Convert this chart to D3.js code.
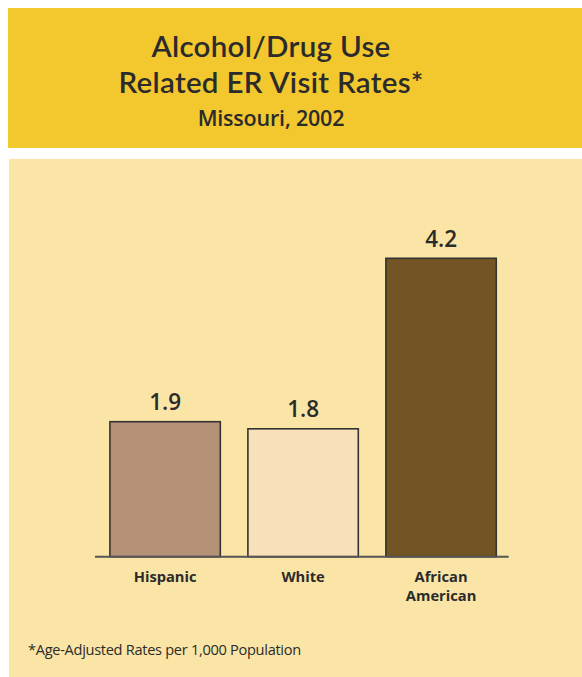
<!DOCTYPE html>
<html>
<head>
<meta charset="utf-8">
<script src="https://cdn.jsdelivr.net/npm/d3@7"></script>
<style>
html,body{margin:0;padding:0;background:#fff;}
svg{display:block;}
</style>
</head>
<body>
<svg id="chart" width="582" height="677"></svg>
<script>
const categories = ["Hispanic", "White", "African American"];
const values = [1.9, 1.8, 4.2];
const valueLabels = ["1.9", "1.8", "4.2"];
const barColors = ["#B59177", "#F8E0BA", "#735425"];
const titleLines = ["Alcohol/Drug Use", "Related ER Visit Rates*"];
const subtitle = "Missouri, 2002";
const footnote = "*Age-Adjusted Rates per 1,000 Population";

const svg = d3.select("#chart");
const font = "'Open Sans', 'Noto Sans', sans-serif";
const titleFont = "Lato, 'Open Sans', sans-serif";
const textColor = "#2b2b2b";

// header box
svg.append("rect").attr("x", 8).attr("y", 8).attr("width", 574).attr("height", 140).attr("fill", "#F2C82E");
// panel
svg.append("rect").attr("x", 9).attr("y", 159).attr("width", 573).attr("height", 518).attr("fill", "#FAE5A6");

const cx = 271;
svg.selectAll("text.title").data(titleLines).enter().append("text")
  .attr("class", "title")
  .attr("x", cx).attr("y", (d, i) => 56.5 + i * 36.5)
  .attr("text-anchor", "middle")
  .attr("font-family", titleFont).attr("font-weight", 600).attr("font-size", 29.5)
  .attr("letter-spacing", 0.3)
  .attr("fill", textColor).text(d => d);

svg.append("text").attr("x", cx).attr("y", 126).attr("text-anchor", "middle")
  .attr("font-family", font).attr("font-weight", 600).attr("font-size", 21.5)
  .attr("letter-spacing", -0.2)
  .attr("fill", textColor).text(subtitle);

const x = d3.scaleBand().domain(categories).range([97.5, 508.7]).paddingInner(0.2).paddingOuter(0.09);
const y = d3.scaleLinear().domain([0, 4.2]).range([556.7, 258.3]);

const g = svg.append("g");
g.selectAll("rect.bar").data(values).enter().append("rect")
  .attr("class", "bar")
  .attr("x", (d, i) => x(categories[i]))
  .attr("y", d => y(d))
  .attr("width", x.bandwidth())
  .attr("height", d => y(0) - y(d))
  .attr("fill", (d, i) => barColors[i])
  .attr("stroke", "#333").attr("stroke-width", 1.6);

g.selectAll("text.val").data(values).enter().append("text")
  .attr("class", "val")
  .attr("x", (d, i) => x(categories[i]) + x.bandwidth() / 2)
  .attr("y", d => y(d) - 11.5)
  .attr("text-anchor", "middle")
  .attr("font-family", font).attr("font-weight", 600).attr("font-size", 22.5)
  .attr("fill", textColor).text((d, i) => valueLabels[i]);

// axis baseline via d3 axis
const axis = d3.axisBottom(x).tickSize(0).tickFormat("");
const ag = svg.append("g").attr("transform", `translate(0,${y(0)})`).call(axis);
ag.select(".domain").attr("stroke", "#555").attr("stroke-width", 2).attr("d", "M95,0H508.7");

// category labels
categories.forEach((c, i) => {
  const words = c === "African American" ? ["African", "American"] : [c];
  const t = svg.append("text")
    .attr("x", x(c) + x.bandwidth() / 2)
    .attr("y", 582)
    .attr("text-anchor", "middle")
    .attr("font-family", font).attr("font-weight", 700).attr("font-size", 14.7)
    .attr("fill", textColor);
  words.forEach((w, j) => {
    t.append("tspan").attr("x", x(c) + x.bandwidth() / 2).attr("dy", j === 0 ? 0 : 19).text(w);
  });
});

svg.append("text").attr("x", 28).attr("y", 655)
  .attr("font-family", font).attr("font-size", 14.6).attr("letter-spacing", -0.3)
  .attr("fill", textColor).text(footnote);
</script>
</body>
</html>
